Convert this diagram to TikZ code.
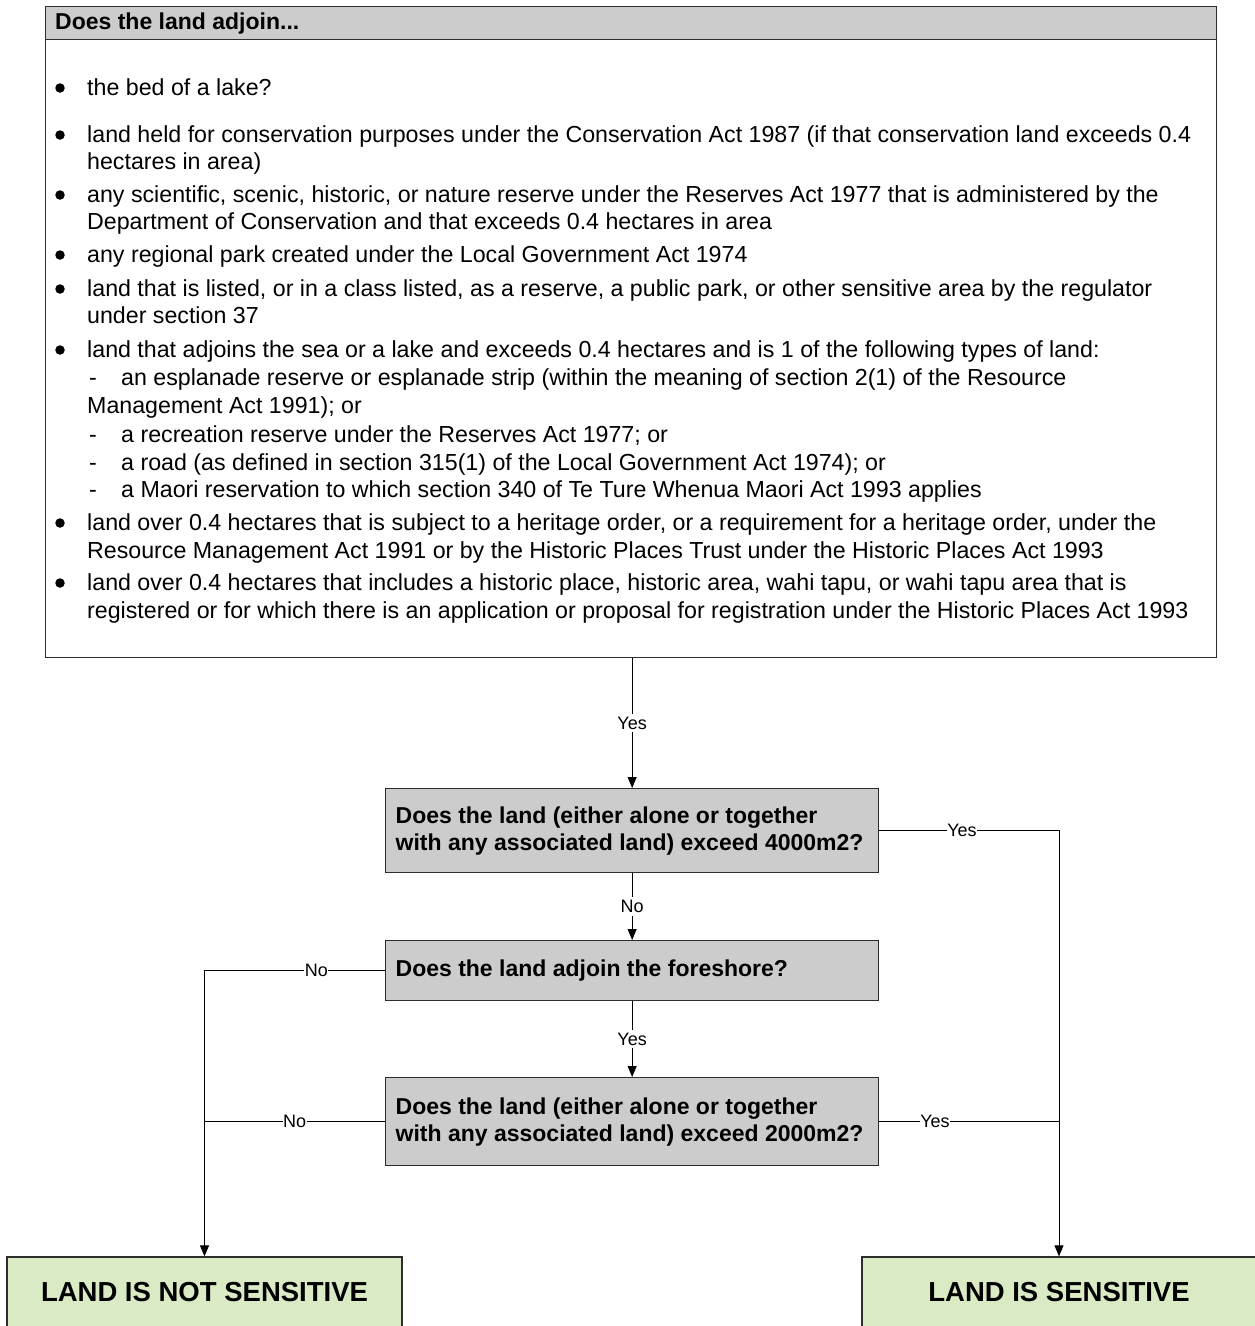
\documentclass[tikz,border=0pt]{standalone}
\usepackage{fontspec}
\setmainfont{Liberation Sans}
\usetikzlibrary{arrows.meta}
\definecolor{boxgray}{RGB}{204,204,204}
\definecolor{boxgreen}{RGB}{217,234,196}
\definecolor{edgecol}{RGB}{45,45,45}
\newcommand{\qline}[1]{\makebox[473pt][l]{#1}}
\begin{document}
\begin{tikzpicture}[x=1pt,y=-1pt,
  txt/.style={anchor=base west,inner sep=0,font=\fontsize{23.2}{27}\selectfont},
  bul/.style={circle,fill=black,inner sep=0,minimum size=9.5pt},
  qbox/.style={draw=edgecol,line width=1.3pt,fill=boxgray,anchor=north west,
    minimum width=493pt,inner xsep=10pt,align=left,
    font=\fontsize{23}{27}\selectfont\bfseries},
  endbox/.style={draw=edgecol,line width=1.3pt,fill=boxgreen,inner sep=0,
    minimum height=71pt,font=\fontsize{27.5}{30}\selectfont\bfseries},
  conn/.style={draw=black,line width=1pt,-{Triangle[length=11pt,width=9pt]}},
  plain/.style={draw=black,line width=1pt},
  lab/.style={fill=white,inner xsep=0.5pt,inner ysep=3pt,font=\fontsize{18}{20}\selectfont}
]
\useasboundingbox (0,0) rectangle (1254,1326);
\fill[white] (0,0) rectangle (1254,1326);

% top box
\node[draw=edgecol,line width=1.3pt,minimum width=1171pt,minimum height=651pt,anchor=north west,inner sep=0] (main) at (45,6) {};
\node[draw=edgecol,line width=1.3pt,fill=boxgray,minimum width=1171pt,minimum height=33pt,anchor=north west,inner sep=0] (head) at (45,6) {};
\node[anchor=base west,inner sep=0,font=\fontsize{23}{27}\selectfont\bfseries] (htxt) at (55,29.5) {Does the land adjoin...};

% bullets
\foreach \n/\y in {1/95,2/142,3/202,4/262,5/296,6/357,7/530,8/590}{
  \node[bul] (b\n) at (60,\y-7) {};
}
\node[txt] (t1a) at (87,95) {the bed of a lake?};
\node[txt] (t2a) at (87,142) {land held for conservation purposes under the Conservation Act 1987 (if that conservation land exceeds 0.4};
\node[txt] (t2b) at (87,169) {hectares in area)};
\node[txt] (t3a) at (87,202) {any scientific, scenic, historic, or nature reserve under the Reserves Act 1977 that is administered by the};
\node[txt] (t3b) at (87,229) {Department of Conservation and that exceeds 0.4 hectares in area};
\node[txt] (t4a) at (87,262) {any regional park created under the Local Government Act 1974};
\node[txt] (t5a) at (87,296) {land that is listed, or in a class listed, as a reserve, a public park, or other sensitive area by the regulator};
\node[txt] (t5b) at (87,323) {under section 37};
\node[txt] (t6a) at (87,357) {land that adjoins the sea or a lake and exceeds 0.4 hectares and is 1 of the following types of land:};
\node[txt] (d1) at (89,385) {-};
\node[txt] (t6b) at (121,385) {an esplanade reserve or esplanade strip (within the meaning of section 2(1) of the Resource};
\node[txt] (t6c) at (87,413) {Management Act 1991); or};
\node[txt] (d2) at (89,442) {-};
\node[txt] (t6d) at (121,442) {a recreation reserve under the Reserves Act 1977; or};
\node[txt] (d3) at (89,470) {-};
\node[txt] (t6e) at (121,470) {a road (as defined in section 315(1) of the Local Government Act 1974); or};
\node[txt] (d4) at (89,497) {-};
\node[txt] (t6f) at (121,497) {a Maori reservation to which section 340 of Te Ture Whenua Maori Act 1993 applies};
\node[txt] (t7a) at (87,530) {land over 0.4 hectares that is subject to a heritage order, or a requirement for a heritage order, under the};
\node[txt] (t7b) at (87,558) {Resource Management Act 1991 or by the Historic Places Trust under the Historic Places Act 1993};
\node[txt] (t8a) at (87,590) {land over 0.4 hectares that includes a historic place, historic area, wahi tapu, or wahi tapu area that is};
\node[txt] (t8b) at (87,618) {registered or for which there is an application or proposal for registration under the Historic Places Act 1993};

% question boxes
\node[qbox,minimum height=84pt] (q1) at (385,788) {\qline{Does the land (either alone or together}\\\qline{with any associated land) exceed 4000m2?}};
\node[qbox,minimum height=60pt] (q2) at (385,940) {\qline{Does the land adjoin the foreshore?}};
\node[qbox,minimum height=88pt] (q3) at (385,1077) {\qline{Does the land (either alone or together}\\\qline{with any associated land) exceed 2000m2?}};

% result boxes
\node[endbox,minimum width=395pt] (nots) at (204.5,1292.5) {LAND IS NOT SENSITIVE};
\node[endbox,minimum width=394pt] (sens) at (1059,1292.5) {LAND IS SENSITIVE};

% connectors
\draw[conn] (main.south -| q1.north) -- node[lab]{Yes} (q1.north);
\draw[conn] (q1.south) -- node[lab]{No} (q2.north);
\draw[conn] (q2.south) -- node[lab]{Yes} (q3.north);
\draw[conn] (q1.east) -- node[lab,pos=0.46]{Yes} (q1.east -| sens.north) -- (sens.north);
\draw[conn] (q2.west) -- node[lab,pos=0.38]{No} (q2.west -| nots.north) -- (nots.north);
\draw[plain] (q3.west) -- node[lab,pos=0.5]{No} (q3.west -| nots.north);
\draw[plain] (q3.east) -- node[lab,pos=0.31]{Yes} (q3.east -| sens.north);
\end{tikzpicture}
\end{document}
